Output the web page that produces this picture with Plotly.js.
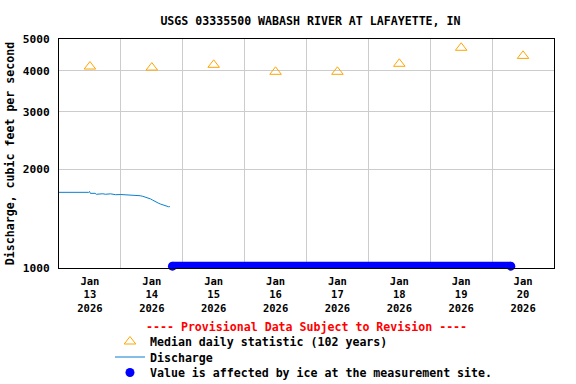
<!DOCTYPE html>
<html>
<head>
<meta charset="utf-8">
<script src="https://cdn.plot.ly/plotly-3.0.1.min.js"></script>
<style>html,body{margin:0;padding:0;background:#fff;}#chart{width:576px;height:384px;}</style>
</head>
<body>
<div id="chart"></div>
<script>
// ---- data ----
const medianDates = ['2026-01-13 12:00','2026-01-14 12:00','2026-01-15 12:00','2026-01-16 12:00',
                     '2026-01-17 12:00','2026-01-18 12:00','2026-01-19 12:00','2026-01-20 12:00'];
const medianValues = [4120, 4090, 4170, 3970, 3970, 4200, 4700, 4440];

const dischargeTimes = ['2026-01-13 00:00','2026-01-13 06:00','2026-01-13 11:30','2026-01-13 11:50',
  '2026-01-13 12:10','2026-01-13 14:00','2026-01-13 14:30','2026-01-13 17:00','2026-01-13 18:00',
  '2026-01-13 20:00','2026-01-13 22:00','2026-01-14 00:00','2026-01-14 02:00','2026-01-14 04:00',
  '2026-01-14 06:00','2026-01-14 07:30','2026-01-14 08:30','2026-01-14 09:30','2026-01-14 10:40',
  '2026-01-14 11:30','2026-01-14 12:15','2026-01-14 13:25','2026-01-14 14:30','2026-01-14 15:20',
  '2026-01-14 16:30','2026-01-14 17:15','2026-01-14 18:00','2026-01-14 18:30','2026-01-14 19:00'];
const dischargeValues = [1702,1702,1702,1712,
  1690,1690,1679,1685,1679,
  1684,1674,1676,1672,1674,
  1670,1662,1655,1646,1636,
  1625,1613,1591,1578,1568,
  1554,1548,1543,1538,1540];

const iceTimes = ['2026-01-14 20:00','2026-01-20 07:15'];
const iceValues = [1013, 1013];

const yTickVals = [1000, 2000, 3000, 4000, 5000];
const yTickText = ['1000', '2000', '3000', '4000', '5000'];

const FONT = 'DejaVu Sans Mono, Liberation Mono, monospace';

const traces = [
  {
    x: medianDates, y: medianValues, type: 'scatter', mode: 'markers',
    name: 'Median daily statistic (102 years)', legend: 'legend',
    marker: {symbol: 'triangle-up-open', size: 10, color: '#ffa500', line: {width: 1, color: '#ffa500'}},
    cliponaxis: false
  },
  {
    x: dischargeTimes, y: dischargeValues, type: 'scatter', mode: 'lines',
    name: 'Discharge', legend: 'legend2', line: {color: '#0a7fd0', width: 1}
  },
  {
    x: iceTimes, y: iceValues, type: 'scatter', mode: 'lines',
    showlegend: false, line: {color: '#0000ff', width: 9}, cliponaxis: false
  },
  {
    x: iceTimes, y: iceValues, type: 'scatter', mode: 'markers',
    name: 'Value is affected by ice at the measurement site.', legend: 'legend3',
    marker: {symbol: 'circle', size: 9, color: '#0000ff'}, cliponaxis: false
  }
];

function legendAt(yPx) {
  return {
    orientation: 'v',
    x: 0.103, xanchor: 'left',
    y: (268 - (yPx - 14)) / 229, yanchor: 'top',
    bgcolor: 'rgba(0,0,0,0)',
    font: {family: FONT, size: 11.6, color: '#000', weight: 'bold'}
  };
}

const layout = {
  width: 576, height: 384,
  margin: {l: 59, r: 22, t: 39, b: 116, autoexpand: false},
  paper_bgcolor: '#ffffff', plot_bgcolor: '#ffffff',
  font: {family: FONT, size: 11.6, color: '#000', weight: 'bold'},
  title: {
    text: 'USGS 03335500 WABASH RIVER AT LAFAYETTE, IN',
    font: {family: FONT, size: 11.6, color: '#000', weight: 'bold'},
    xref: 'paper', x: 0.508, xanchor: 'center',
    yref: 'container', y: 1 - 21/384, yanchor: 'middle'
  },
  xaxis: {
    type: 'date',
    range: ['2026-01-13 00:00', '2026-01-21 00:00'],
    tick0: '2026-01-13', dtick: 86400000,
    ticklabelmode: 'period',
    tickformat: '%b<br>%d<br>%Y',
    tickfont: {family: FONT, size: 10.5, color: '#000', weight: 'bold'},
    ticks: 'outside', ticklen: 3, tickcolor: 'rgba(0,0,0,0)',
    showgrid: true, gridcolor: '#cccccc', gridwidth: 1,
    showline: true, linecolor: '#000', linewidth: 1, mirror: true,
    zeroline: false, fixedrange: true, automargin: false
  },
  yaxis: {
    type: 'log',
    range: [3, Math.log10(5000)],
    tickmode: 'array', tickvals: yTickVals, ticktext: yTickText,
    tickfont: {family: FONT, size: 11.2, color: '#000', weight: 'bold'},
    ticks: 'outside', ticklen: 6, tickcolor: 'rgba(0,0,0,0)',
    showgrid: true, gridcolor: '#cccccc', gridwidth: 1,
    showline: true, linecolor: '#000', linewidth: 1, mirror: true,
    zeroline: false, fixedrange: true, automargin: false,
    title: {text: 'Discharge, cubic feet per second', standoff: 5,
            font: {family: FONT, size: 11.6, color: '#000', weight: 'bold'}}
  },
  legend: legendAt(341),
  legend2: legendAt(356.5),
  legend3: legendAt(372),
  annotations: [{
    text: '---- Provisional Data Subject to Revision ----',
    xref: 'paper', yref: 'paper', x: 0.5, y: (268 - 326.7) / 229,
    xanchor: 'center', yanchor: 'middle', showarrow: false,
    font: {family: FONT, size: 11.6, color: '#ff0000', weight: 'bold'}
  }],
  hovermode: false,
  showlegend: true
};

Plotly.newPlot('chart', traces, layout, {displayModeBar: false, staticPlot: true});
</script>
</body>
</html>
